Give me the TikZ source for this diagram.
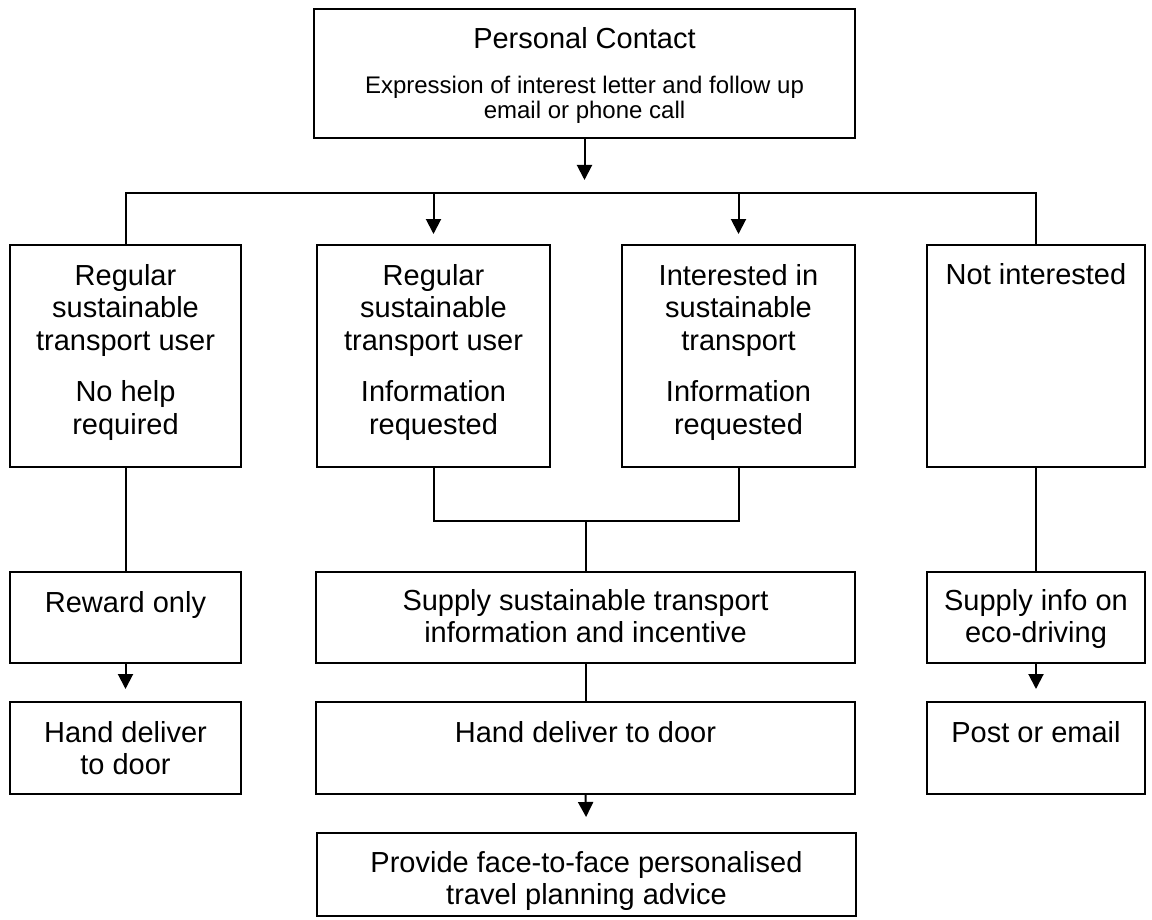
\documentclass[tikz,border=0pt]{standalone}
\usepackage{fontspec}
\setmainfont{Liberation Sans}
\usetikzlibrary{arrows.meta,fit,positioning}
\tikzset{
  box/.style={draw, line width=1pt, rectangle, inner sep=0pt},
  txt/.style={anchor=north, inner sep=0pt, align=center, font=\fontsize{14.5pt}{16.2pt}\selectfont},
  smalltxt/.style={anchor=north, inner sep=0pt, align=center, font=\fontsize{12pt}{12.3pt}\selectfont},
  conn/.style={line width=1pt},
  arr/.style={line width=1pt, -{Triangle[length=7.5pt,width=7.5pt]}},
}
\begin{document}
\begin{tikzpicture}[x=0.5pt,y=-0.5pt]
\useasboundingbox (0,0) rectangle (1152,920);
% boxes
\node[box, fit={(314,9) (855,138)}] (top) {};
\node[box, fit={(10,245) (241,467)}] (b1) {};
\node[box, fit={(317,245) (550,467)}] (b2) {};
\node[box, fit={(622,245) (855,467)}] (b3) {};
\node[box, fit={(927,245) (1145,467)}] (b4) {};
\node[box, fit={(10,572) (241,663)}] (rew) {};
\node[box, fit={(316,572) (855,663)}] (sup) {};
\node[box, fit={(927,572) (1145,663)}] (si) {};
\node[box, fit={(10,702) (241,794)}] (hd1) {};
\node[box, fit={(316,702) (855,794)}] (hd2) {};
\node[box, fit={(927,702) (1145,794)}] (post) {};
\node[box, fit={(317,833) (856,916)}] (prov) {};
% texts
\node[txt] (topT) at ([yshift=-9.5pt]top.north) {Personal Contact};
\node[smalltxt] (topS) at ([yshift=-34pt]top.north) {Expression of interest letter and follow up\\email or phone call};
\node[txt] (b1t) at ([yshift=-10pt]b1.north) {Regular\\sustainable\\transport user\\[9.5pt]No help\\required};
\node[txt] (b2t) at ([yshift=-10pt]b2.north) {Regular\\sustainable\\transport user\\[9.5pt]Information\\requested};
\node[txt] (b3t) at ([yshift=-10pt]b3.north) {Interested in\\sustainable\\transport\\[9.5pt]Information\\requested};
\node[txt] (b4t) at ([yshift=-9.5pt]b4.north) {Not interested};
\node[txt] (rewt) at ([yshift=-10pt]rew.north) {Reward only};
\node[txt] (supt) at ([yshift=-9pt]sup.north) {Supply sustainable transport\\information and incentive};
\node[txt] (sit) at ([yshift=-9pt]si.north) {Supply info on\\eco-driving};
\node[txt] (hd1t) at ([yshift=-10pt]hd1.north) {Hand deliver\\to door};
\node[txt] (hd2t) at ([yshift=-10pt]hd2.north) {Hand deliver to door};
\node[txt] (postt) at ([yshift=-10pt]post.north) {Post or email};
\node[txt] (provt) at ([yshift=-9.5pt]prov.north) {Provide face-to-face personalised\\travel planning advice};
% connectors
\coordinate (bus) at (584.5,193);
\coordinate (brk) at (585.5,521);
\draw[arr, shorten >=6.5pt] (top.south) -- (top.south |- bus);
\draw[conn] (b1.north) -- (b1.north |- bus) -- (b4.north |- bus) -- (b4.north);
\draw[arr, shorten >=5pt] (b2.north |- bus) -- (b2.north);
\draw[arr, shorten >=5pt] (b3.north |- bus) -- (b3.north);
\draw[conn] (b2.south) -- (b2.south |- brk) -- (b3.south |- brk) -- (b3.south);
\draw[conn] (sup.north |- brk) -- (sup.north);
\draw[conn] (b1.south) -- (rew.north);
\draw[arr, shorten >=6pt] (rew.south) -- (hd1.north);
\draw[conn] (sup.south) -- (hd2.north);
\draw[arr, shorten >=7.5pt] (hd2.south) -- (prov.north);
\draw[conn] (b4.south) -- (si.north);
\draw[arr, shorten >=6pt] (si.south) -- (post.north);
\end{tikzpicture}
\end{document}
